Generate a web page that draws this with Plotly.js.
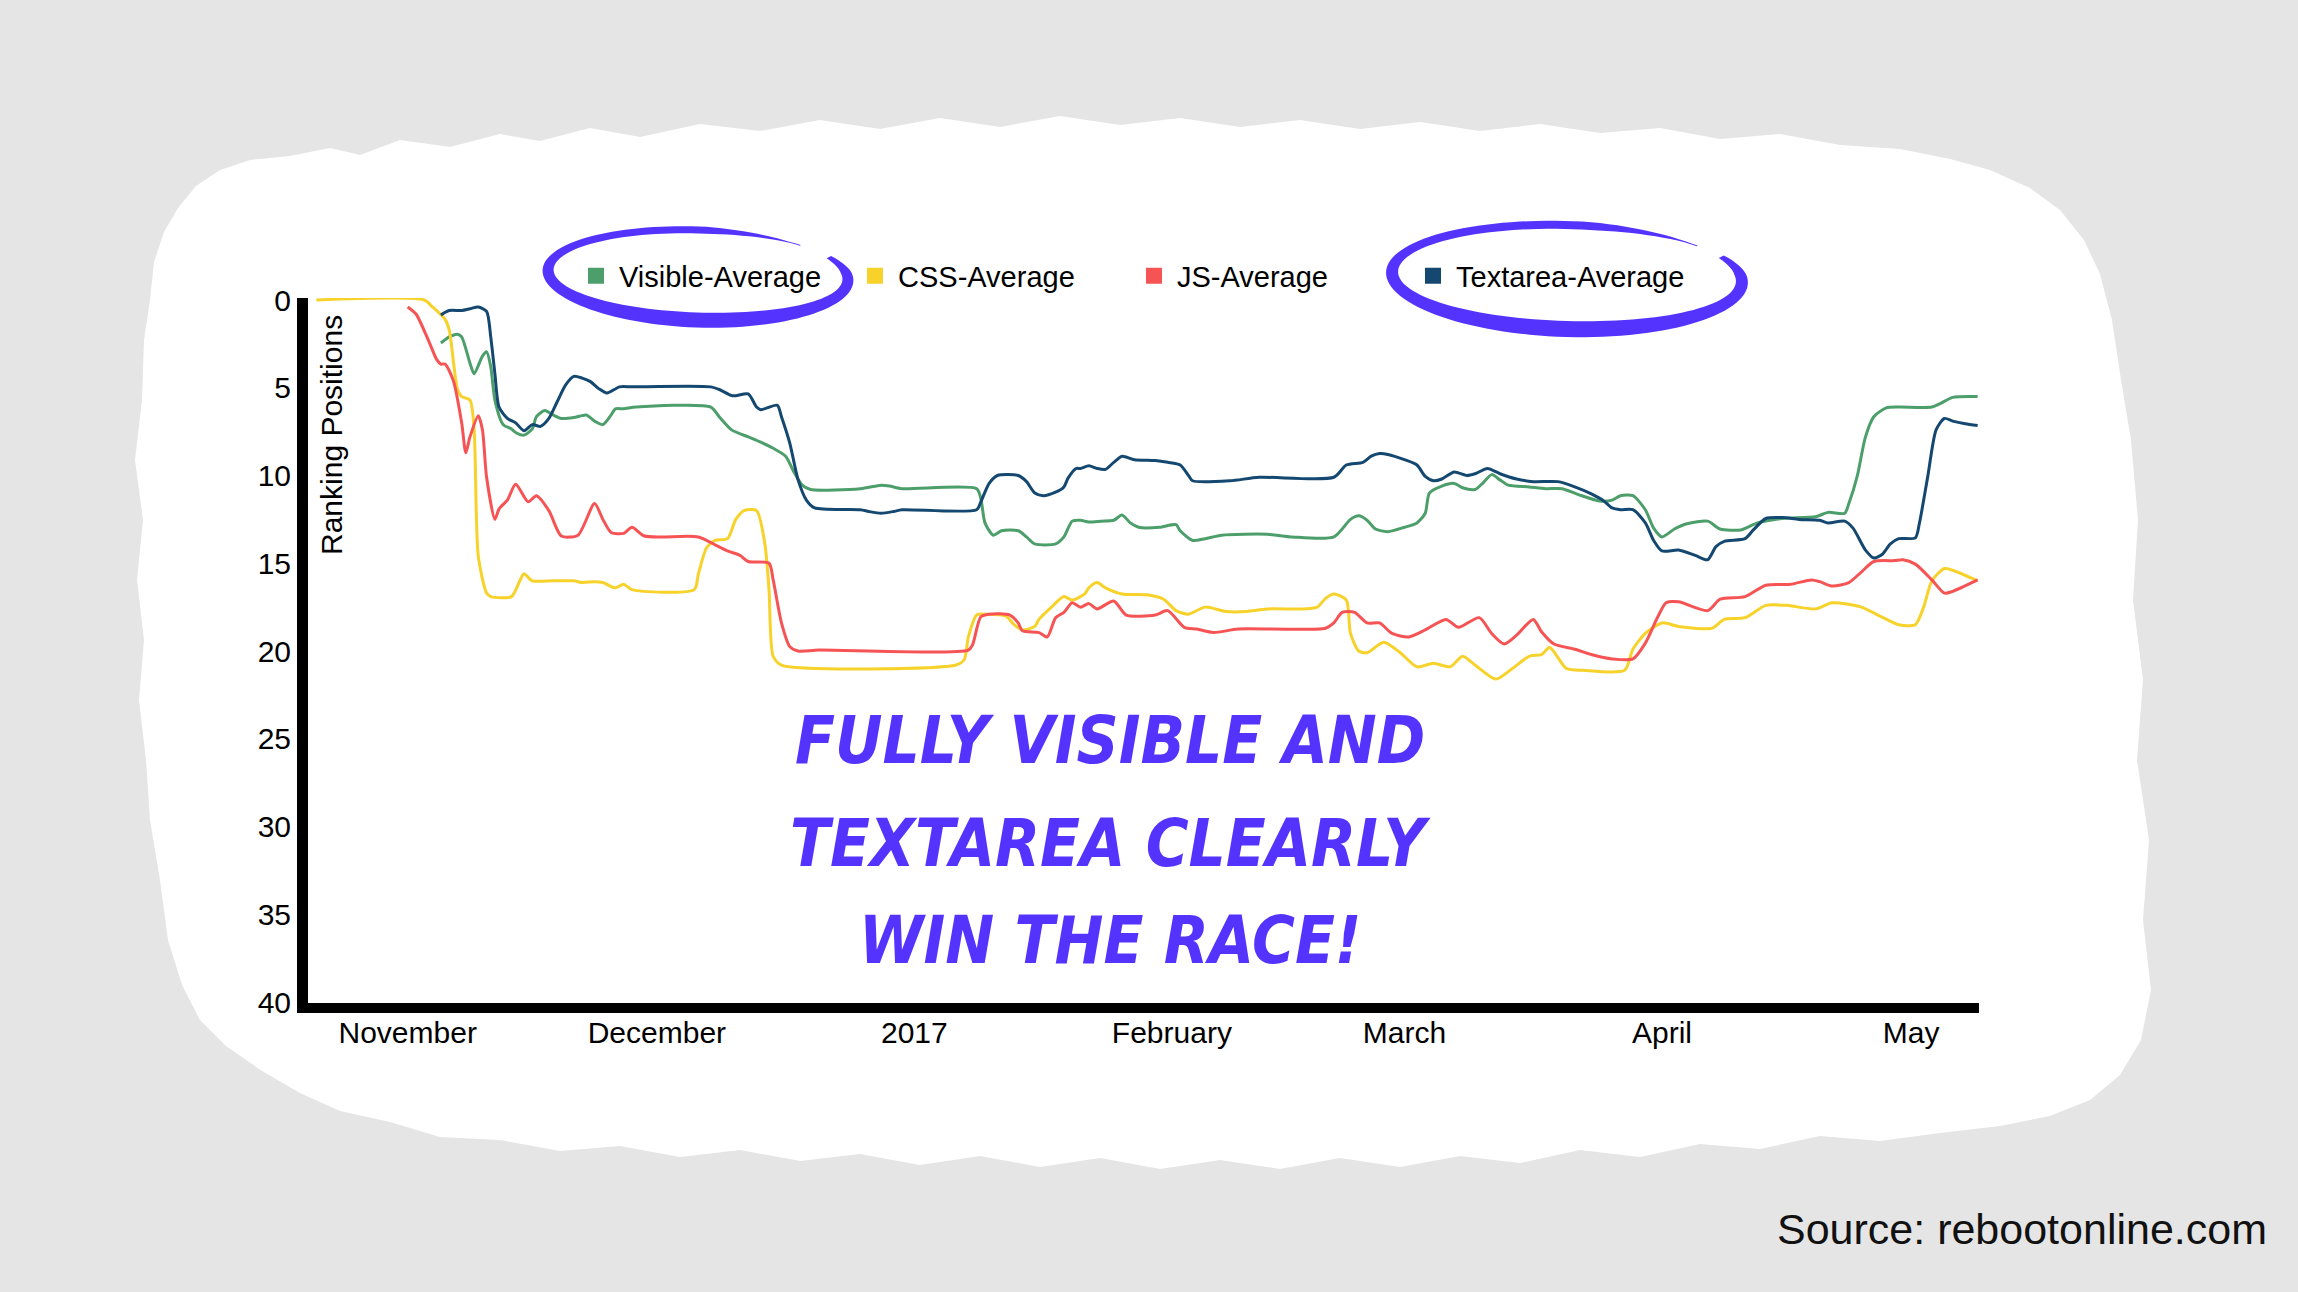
<!DOCTYPE html>
<html>
<head>
<meta charset="utf-8">
<script src="https://cdn.plot.ly/plotly-3.0.1.min.js"></script>
<style>
html,body{margin:0;padding:0;background:#e5e5e5;}
#chart{width:2298px;height:1292px;}
</style>
</head>
<body>
<div id="chart"></div>
<script>
// ---------- DATA ----------
const seriesNames  = ['Visible-Average', 'CSS-Average', 'JS-Average', 'Textarea-Average'];
const seriesColors = ['#4c9e6a', '#f7d22b', '#f65454', '#144870'];

const monthTickDates  = ['2016-11-01','2016-12-01','2017-01-01','2017-02-01','2017-03-01','2017-04-01','2017-05-01'];
const monthTickLabels = ['November','December','2017','February','March','April','May'];
const rankTicks = [0, 5, 10, 15, 20, 25, 30, 35, 40];

const calloutLines = ['FULLY VISIBLE AND', 'TEXTAREA CLEARLY', 'WIN THE RACE!'];

const visiblePoints = [
 ['2016-11-05',2.45],['2016-11-06',2.1],['2016-11-07',1.95],['2016-11-07 12:00',2.1],['2016-11-08 12:00',3.6],
 ['2016-11-09',4.2],['2016-11-10',3.2],['2016-11-10 12:00',2.95],['2016-11-11',3.8],['2016-11-11 12:00',5.7],
 ['2016-11-12 12:00',7.1],['2016-11-13 12:00',7.35],['2016-11-14',7.55],['2016-11-15',7.7],['2016-11-16',7.35],
 ['2016-11-16 12:00',6.65],['2016-11-17 12:00',6.3],['2016-11-18 12:00',6.55],['2016-11-19 12:00',6.75],['2016-11-21',6.7],
 ['2016-11-22 12:00',6.55],['2016-11-23 12:00',6.9],['2016-11-24 12:00',7.1],['2016-11-25 12:00',6.55],['2016-11-26',6.2],
 ['2016-11-27',6.2],['2016-11-28 12:00',6.1],['2016-12-07 12:00',6.1],['2016-12-08 12:00',6.65],['2016-12-10',7.4],
 ['2016-12-12',7.8],['2016-12-13 12:00',8.1],['2016-12-15',8.45],['2016-12-16 12:00',8.9],['2016-12-17 12:00',9.8],
 ['2016-12-18 12:00',10.55],['2016-12-19 12:00',10.8],['2016-12-25 12:00',10.75],['2016-12-28',10.55],['2016-12-29',10.6],
 ['2016-12-30 12:00',10.75],['2017-01-08 12:00',10.75],['2017-01-09',11.3],['2017-01-09 12:00',12.7],['2017-01-10 12:00',13.4],
 ['2017-01-11 12:00',13.15],['2017-01-13 12:00',13.15],['2017-01-14 12:00',13.5],['2017-01-15 12:00',13.9],['2017-01-18',13.9],
 ['2017-01-19',13.5],['2017-01-20',12.6],['2017-01-21',12.55],['2017-01-22',12.65],['2017-01-23 12:00',12.6],
 ['2017-01-25',12.55],['2017-01-26',12.25],['2017-01-27',12.7],['2017-01-28',12.95],['2017-01-30 12:00',12.95],
 ['2017-02-01 12:00',12.8],['2017-02-02',13.15],['2017-02-03 12:00',13.7],['2017-02-05',13.6],['2017-02-07',13.4],
 ['2017-02-12 12:00',13.35],['2017-02-15 12:00',13.5],['2017-02-20 12:00',13.5],['2017-02-22 12:00',12.5],['2017-02-23 12:00',12.3],
 ['2017-02-24 12:00',12.55],['2017-02-25 12:00',13.05],['2017-02-27',13.2],['2017-03-01',12.95],['2017-03-02 12:00',12.7],
 ['2017-03-03 12:00',12.15],['2017-03-04',11.0],['2017-03-05 12:00',10.6],['2017-03-07',10.45],['2017-03-08',10.7],
 ['2017-03-09 12:00',10.8],['2017-03-10 12:00',10.4],['2017-03-11 12:00',9.95],['2017-03-12 12:00',10.25],['2017-03-13 12:00',10.55],
 ['2017-03-16',10.65],['2017-03-18',10.75],['2017-03-20',10.75],['2017-03-22',11.1],['2017-03-24 12:00',11.45],
 ['2017-03-26',11.4],['2017-03-27',11.15],['2017-03-28 12:00',11.15],['2017-03-30',11.95],['2017-03-31',13.0],
 ['2017-04-01',13.5],['2017-04-02 12:00',13.05],['2017-04-04',12.75],['2017-04-06 12:00',12.6],['2017-04-08',13.05],
 ['2017-04-10 12:00',13.1],['2017-04-12 12:00',12.7],['2017-04-15 12:00',12.45],['2017-04-19 12:00',12.35],['2017-04-21',12.1],
 ['2017-04-23',12.15],['2017-04-23 12:00',11.6],['2017-04-24 12:00',10.05],['2017-04-25 12:00',7.8],['2017-04-26 12:00',6.65],
 ['2017-04-28',6.15],['2017-04-29 12:00',6.1],['2017-05-03 12:00',6.1],['2017-05-04 12:00',5.9],['2017-05-06',5.55],
 ['2017-05-09',5.5]
];

const cssPoints = [
 ['2016-10-21',0],['2016-11-03',0],['2016-11-04',0.4],['2016-11-05 12:00',1.1],['2016-11-06',1.7],
 ['2016-11-07',5.1],['2016-11-07 12:00',5.5],['2016-11-08 12:00',5.7],['2016-11-09',7.4],['2016-11-09 12:00',14.6],
 ['2016-11-10 12:00',16.7],['2016-11-11',16.9],['2016-11-13 12:00',16.9],['2016-11-14 12:00',16.0],['2016-11-15',15.6],
 ['2016-11-16',16.0],['2016-11-18 12:00',16.0],['2016-11-21',16.0],['2016-11-22',16.1],['2016-11-23 12:00',16.05],
 ['2016-11-24 12:00',16.1],['2016-11-26',16.4],['2016-11-27',16.2],['2016-11-28',16.5],['2016-12-05 12:00',16.5],
 ['2016-12-06',15.6],['2016-12-07',14.1],['2016-12-08',13.7],['2016-12-09 12:00',13.6],['2016-12-10 12:00',12.5],
 ['2016-12-11 12:00',12.0],['2016-12-13',12.0],['2016-12-14',13.9],['2016-12-14 12:00',16.5],['2016-12-15',20.3],
 ['2016-12-16',20.8],['2017-01-06',20.8],['2017-01-07',20.5],['2017-01-07 12:00',19.2],['2017-01-08 12:00',17.95],
 ['2017-01-09 12:00',17.9],['2017-01-12',18.0],['2017-01-13',18.5],['2017-01-14',18.8],['2017-01-15 12:00',18.6],
 ['2017-01-16',18.2],['2017-01-17 12:00',17.5],['2017-01-19',16.9],['2017-01-20',17.1],['2017-01-21 12:00',16.75],
 ['2017-01-22',16.4],['2017-01-23',16.1],['2017-01-24',16.4],['2017-01-26',16.75],['2017-01-29',16.8],
 ['2017-01-31',17.05],['2017-02-01 12:00',17.7],['2017-02-03',17.9],['2017-02-05',17.5],['2017-02-07 12:00',17.75],
 ['2017-02-10',17.75],['2017-02-12 12:00',17.6],['2017-02-17',17.6],['2017-02-18 12:00',17.5],['2017-02-19 12:00',17.0],
 ['2017-02-20 12:00',16.75],['2017-02-22',17.1],['2017-02-22 12:00',19.0],['2017-02-23 12:00',20.0],['2017-02-24 12:00',20.1],
 ['2017-02-26 12:00',19.5],['2017-02-28 12:00',20.1],['2017-03-02 12:00',20.9],['2017-03-04 12:00',20.7],['2017-03-06 12:00',20.9],
 ['2017-03-08',20.3],['2017-03-09 12:00',20.8],['2017-03-12',21.6],['2017-03-14',21.0],['2017-03-16',20.3],
 ['2017-03-17 12:00',20.2],['2017-03-18 12:00',19.8],['2017-03-20 12:00',21.0],['2017-03-22 12:00',21.1],['2017-03-27 12:00',21.1],
 ['2017-03-28 12:00',19.9],['2017-03-30',19.0],['2017-04-01',18.4],['2017-04-03',18.6],['2017-04-07',18.7],
 ['2017-04-08 12:00',18.2],['2017-04-11',18.1],['2017-04-13 12:00',17.4],['2017-04-16',17.4],['2017-04-19 12:00',17.6],
 ['2017-04-21 12:00',17.25],['2017-04-25',17.5],['2017-04-27',17.95],['2017-04-29 12:00',18.5],['2017-05-01 12:00',18.5],
 ['2017-05-02 12:00',17.5],['2017-05-03 12:00',16.0],['2017-05-05',15.3],['2017-05-06',15.4],['2017-05-09',16.0]
];

const jsPoints = [
 ['2016-11-01',0.4],['2016-11-02',0.8],['2016-11-03 12:00',2.3],['2016-11-04 12:00',3.4],['2016-11-05',3.65],
 ['2016-11-05 12:00',3.65],['2016-11-06 12:00',4.6],['2016-11-07 12:00',7.0],['2016-11-08',8.7],['2016-11-08 12:00',7.8],
 ['2016-11-09 12:00',6.6],['2016-11-10',7.4],['2016-11-10 12:00',10.1],['2016-11-11 12:00',12.5],['2016-11-12',11.9],
 ['2016-11-13',11.4],['2016-11-14',10.5],['2016-11-15 12:00',11.5],['2016-11-16 12:00',11.15],['2016-11-18',12.0],
 ['2016-11-19 12:00',13.45],['2016-11-21 12:00',13.4],['2016-11-23 12:00',11.6],['2016-11-24 12:00',12.5],['2016-11-25 12:00',13.25],
 ['2016-11-27',13.3],['2016-11-28',12.95],['2016-11-29 12:00',13.45],['2016-12-06',13.5],['2016-12-08',13.95],
 ['2016-12-09 12:00',14.3],['2016-12-11',14.55],['2016-12-12',14.9],['2016-12-14 12:00',15.0],['2016-12-15',15.95],
 ['2016-12-16',18.4],['2016-12-17',19.75],['2016-12-18',20.0],['2016-12-20 12:00',19.95],['2017-01-07 12:00',19.95],
 ['2017-01-08',19.65],['2017-01-09',18.05],['2017-01-10',17.9],['2017-01-12 12:00',17.95],['2017-01-13 12:00',18.4],
 ['2017-01-14',18.85],['2017-01-16',18.95],['2017-01-17',19.2],['2017-01-18',18.1],['2017-01-19',17.8],
 ['2017-01-20',17.25],['2017-01-21',17.5],['2017-01-22',17.3],['2017-01-23',17.6],['2017-01-25',17.15],
 ['2017-01-26 12:00',17.95],['2017-01-30',17.95],['2017-01-31 12:00',17.7],['2017-02-02 12:00',18.65],['2017-02-04',18.75],
 ['2017-02-06',18.95],['2017-02-09',18.75],['2017-02-19 12:00',18.7],['2017-02-20 12:00',18.4],['2017-02-21 12:00',17.8],
 ['2017-02-23',17.8],['2017-02-24 12:00',18.4],['2017-02-26',18.4],['2017-02-27 12:00',19.0],['2017-03-01 12:00',19.2],
 ['2017-03-03 12:00',18.8],['2017-03-06',18.2],['2017-03-07 12:00',18.65],['2017-03-10',18.1],['2017-03-11 12:00',19.0],
 ['2017-03-13',19.6],['2017-03-14 12:00',19.1],['2017-03-16 12:00',18.2],['2017-03-17 12:00',18.9],['2017-03-19',19.6],
 ['2017-03-21 12:00',19.9],['2017-03-23 12:00',20.2],['2017-03-26',20.45],['2017-03-28 12:00',20.45],['2017-03-30',19.55],
 ['2017-03-31 12:00',18.05],['2017-04-01 12:00',17.25],['2017-04-03',17.2],['2017-04-06 12:00',17.7],['2017-04-08',17.05],
 ['2017-04-11',16.9],['2017-04-13 12:00',16.25],['2017-04-16 12:00',16.2],['2017-04-19',15.95],['2017-04-20',16.05],
 ['2017-04-21 12:00',16.3],['2017-04-23 12:00',16.1],['2017-04-25',15.5],['2017-04-26 12:00',14.9],['2017-04-29',14.85],
 ['2017-04-30',14.8],['2017-05-01 12:00',15.05],['2017-05-03 12:00',15.95],['2017-05-05',16.7],['2017-05-06',16.6],
 ['2017-05-09',15.95]
];

const textareaPoints = [
 ['2016-11-05',0.85],['2016-11-06',0.6],['2016-11-07 12:00',0.6],['2016-11-08 12:00',0.5],['2016-11-09 12:00',0.4],
 ['2016-11-10 12:00',0.65],['2016-11-11',2.1],['2016-11-11 12:00',4.2],['2016-11-12',6.1],['2016-11-13',6.75],
 ['2016-11-14',7.0],['2016-11-15',7.45],['2016-11-16',7.1],['2016-11-17',7.2],['2016-11-18',6.75],
 ['2016-11-19',5.8],['2016-11-20',4.85],['2016-11-21',4.35],['2016-11-22',4.45],['2016-11-23',4.65],
 ['2016-11-24',5.05],['2016-11-25',5.3],['2016-11-26 12:00',4.95],['2016-11-28',4.95],['2016-12-07 12:00',4.95],
 ['2016-12-08 12:00',5.1],['2016-12-10',5.45],['2016-12-10 12:00',5.45],['2016-12-12',5.35],['2016-12-13',6.1],
 ['2016-12-13 12:00',6.25],['2016-12-15 12:00',6.0],['2016-12-16',6.65],['2016-12-17',8.15],['2016-12-18',10.25],
 ['2016-12-19',11.4],['2016-12-20',11.85],['2016-12-25 12:00',11.95],['2016-12-26 12:00',12.05],['2016-12-28',12.15],
 ['2016-12-29 12:00',12.05],['2016-12-30 12:00',11.95],['2017-01-08 12:00',11.95],['2017-01-09',11.5],['2017-01-10',10.45],
 ['2017-01-11',10.0],['2017-01-13 12:00',10.0],['2017-01-14 12:00',10.35],['2017-01-15 12:00',11.0],['2017-01-16 12:00',11.15],
 ['2017-01-18',10.95],['2017-01-19',10.65],['2017-01-19 12:00',10.15],['2017-01-20 12:00',9.6],['2017-01-21',9.6],
 ['2017-01-22',9.45],['2017-01-23',9.6],['2017-01-24',9.65],['2017-01-25',9.25],['2017-01-26',8.9],
 ['2017-01-27 12:00',9.1],['2017-01-30',9.15],['2017-01-31 12:00',9.25],['2017-02-02',9.4],['2017-02-03',10.0],
 ['2017-02-03 12:00',10.3],['2017-02-08',10.3],['2017-02-11 12:00',10.1],['2017-02-20 12:00',10.1],['2017-02-22',9.4],
 ['2017-02-24',9.25],['2017-02-25',8.9],['2017-02-26',8.75],['2017-02-27',8.8],['2017-03-01',9.1],
 ['2017-03-02 12:00',9.4],['2017-03-03 12:00',10.05],['2017-03-04 12:00',10.3],['2017-03-05 12:00',10.2],['2017-03-07',9.8],
 ['2017-03-08 12:00',10.0],['2017-03-09 12:00',9.9],['2017-03-11',9.6],['2017-03-12 12:00',9.9],['2017-03-14 12:00',10.2],
 ['2017-03-16 12:00',10.35],['2017-03-19 12:00',10.35],['2017-03-21 12:00',10.65],['2017-03-23 12:00',11.05],['2017-03-25',11.45],
 ['2017-03-26',11.85],['2017-03-27',11.95],['2017-03-28 12:00',11.95],['2017-03-30',12.7],['2017-03-31',13.7],
 ['2017-04-01',14.3],['2017-04-03',14.25],['2017-04-05',14.55],['2017-04-06 12:00',14.8],['2017-04-07 12:00',14.05],
 ['2017-04-08 12:00',13.75],['2017-04-11',13.6],['2017-04-12',13.1],['2017-04-13 12:00',12.45],['2017-04-15 12:00',12.4],
 ['2017-04-17 12:00',12.5],['2017-04-20',12.55],['2017-04-21',12.7],['2017-04-23',12.6],['2017-04-24',13.0],
 ['2017-04-25 12:00',14.25],['2017-04-26 12:00',14.7],['2017-04-27 12:00',14.5],['2017-04-28 12:00',13.9],['2017-04-29 12:00',13.6],
 ['2017-05-01 12:00',13.55],['2017-05-02',12.7],['2017-05-03',10.05],['2017-05-04',7.4],['2017-05-05',6.75],
 ['2017-05-06',6.9],['2017-05-07 12:00',7.05],['2017-05-09',7.15]
];

const seriesPoints = [visiblePoints, cssPoints, jsPoints, textareaPoints];

// ---------- LAYOUT GEOMETRY (pixels) ----------
const W = 2298, H = 1292;
const PL = 308, PR = 1979, PT = 298, PB = 1003;
const PW = PR - PL, PH = PB - PT;
const px = x => (x - PL) / PW;
const py = y => (PB - y) / PH;

function pathFrom(pts) {
  return 'M' + pts.map(p => px(p[0]).toFixed(5) + ',' + py(p[1]).toFixed(5)).join('L') + 'Z';
}

// torn white paper outline (decoration)
const paperOutline = [
 [150,300],[154,262],[164,232],[178,208],[196,186],[220,170],[250,160],[290,156],[330,148],[360,155],
 [400,140],[450,147],[500,134],[540,141],[590,128],[640,137],[700,124],[760,131],[820,120],[880,129],
 [940,118],[1000,127],[1060,116],[1120,125],[1180,118],[1240,127],[1300,120],[1360,129],[1420,122],[1480,131],
 [1540,124],[1600,133],[1660,128],[1720,139],[1780,134],[1840,145],[1900,149],[1950,159],[1990,170],[2030,188],
 [2060,210],[2084,240],[2100,274],[2112,320],[2121,380],[2131,440],[2138,520],[2133,600],[2143,680],[2137,760],
 [2149,840],[2143,920],[2151,990],[2141,1040],[2120,1075],[2090,1100],[2050,1116],[2000,1126],[1940,1133],[1880,1141],
 [1820,1136],[1760,1149],[1700,1144],[1640,1157],[1580,1150],[1520,1163],[1460,1156],[1400,1167],[1340,1158],[1280,1169],
 [1220,1160],[1160,1169],[1100,1158],[1040,1167],[980,1156],[920,1165],[860,1154],[800,1161],[740,1150],[680,1157],
 [620,1146],[560,1151],[500,1140],[440,1137],[390,1122],[340,1111],[300,1093],[262,1071],[226,1046],[200,1020],
 [182,985],[168,940],[160,880],[150,820],[146,760],[139,700],[144,640],[137,580],[143,520],[135,460],
 [142,400],[144,340]
];

// hand-drawn ring around a legend entry (decoration)
function ringPath(c) {
  const n = 120, outer = [], inner = [];
  const cr = Math.cos(c.rot), sr = Math.sin(c.rot);
  for (let i = 0; i <= n; i++) {
    const th = c.a0 + (c.a1 - c.a0) * i / n;
    let w = c.w0 + c.w1 * Math.sin(th);
    const tail = Math.max(0.12, Math.min(1, (c.a1 - th) / 0.7));
    const head = Math.min(1, 0.55 + 0.45 * (th - c.a0) / 0.35);
    w *= tail * head;
    const ex = Math.cos(th), ey = Math.sin(th);
    const pt = (rx, ry) => { const x = rx * ex, y = ry * ey; return [c.cx + x * cr - y * sr, c.cy + x * sr + y * cr]; };
    outer.push(pt(c.rx + w / 2, c.ry + w / 2));
    inner.push(pt(c.rx - w / 2, c.ry - w / 2));
  }
  return pathFrom(outer.concat(inner.reverse()));
}

const ringBlue = '#5533ff';
const rings = [
  {cx: 698, cy: 275, rx: 150, ry: 45, rot: 0.035, a0: -0.52, a1: 2*Math.PI - 0.83, w0: 11, w1: 4},
  {cx: 1567, cy: 277, rx: 175, ry: 52, rot: 0.03, a0: -0.50, a1: 2*Math.PI - 0.74, w0: 12, w1: 4}
];

// ---------- TRACES ----------
const traces = [];
seriesPoints.forEach((pts, i) => {
  traces.push({
    type: 'scatter', mode: 'lines',
    x: pts.map(p => p[0]), y: pts.map(p => p[1]),
    line: {color: seriesColors[i], width: 3, shape: 'spline', smoothing: 0.7},
    showlegend: false, hoverinfo: 'skip'
  });
});
seriesNames.forEach((name, i) => {
  traces.push({
    type: 'scatter', mode: 'markers', name: name,
    x: [null], y: [null],
    marker: {symbol: 'square', size: 16, color: seriesColors[i]},
    showlegend: true
  });
});

const baseFont = 'Liberation Sans, Arial, Helvetica, sans-serif';
const brushFont = 'DejaVu Sans Condensed, Liberation Sans Narrow, sans-serif';

const shapes = [
  {type: 'path', xref: 'paper', yref: 'paper', path: pathFrom(paperOutline),
   fillcolor: '#ffffff', line: {width: 0}, layer: 'below'}
].concat(rings.map(r => ({
  type: 'path', xref: 'paper', yref: 'paper', path: ringPath(r),
  fillcolor: ringBlue, line: {width: 0}, layer: 'above'
})));

const calloutY = [740, 843, 940];
const calloutAnnotations = calloutLines.map((t, i) => ({
  xref: 'paper', yref: 'paper', x: px(1110), y: py(calloutY[i]),
  text: '<b><i>' + t + '</i></b>', showarrow: false, xanchor: 'center', yanchor: 'middle',
  font: {family: brushFont, size: 65, color: ringBlue}
}));

const layout = {
  width: W, height: H,
  margin: {l: PL, r: W - PR, t: PT, b: H - PB, pad: 0},
  paper_bgcolor: '#e5e5e5',
  plot_bgcolor: 'rgba(0,0,0,0)',
  font: {family: baseFont, size: 30, color: '#000000'},
  showlegend: true,
  legend: {
    orientation: 'h', x: px(573), xanchor: 'left', y: py(276), yanchor: 'middle',
    bgcolor: 'rgba(0,0,0,0)', borderwidth: 0, itemwidth: 36,
    font: {family: baseFont, size: 29, color: '#000000'},
    entrywidth: 228, entrywidthmode: 'pixels', traceorder: 'normal'
  },
  xaxis: {
    type: 'date', range: ['2016-10-20 00:00', '2017-05-09 04:00'], autorange: false,
    showline: true, linecolor: '#000000', linewidth: 10,
    showgrid: false, zeroline: false, ticks: '',
    tickmode: 'array', tickvals: monthTickDates, ticktext: monthTickLabels,
    ticklabelstandoff: -6,
    tickfont: {family: baseFont, size: 30, color: '#000000'}
  },
  yaxis: {
    range: [40.057, -0.114], autorange: false,
    showline: true, linecolor: '#000000', linewidth: 11,
    showgrid: false, zeroline: false, ticks: '',
    tickmode: 'array', tickvals: rankTicks,
    tickfont: {family: baseFont, size: 30, color: '#000000'}
  },
  shapes: shapes,
  annotations: [
    {xref: 'paper', yref: 'paper', x: px(331), y: py(435), text: 'Ranking Positions',
     textangle: -90, showarrow: false, xanchor: 'center', yanchor: 'middle',
     font: {family: baseFont, size: 30, color: '#000000'}},
    {xref: 'paper', yref: 'paper', x: px(2269), y: py(1229), text: 'Source: rebootonline.com',
     showarrow: false, xanchor: 'right', yanchor: 'middle',
     font: {family: baseFont, size: 43, color: '#111111'}}
  ].concat(calloutAnnotations)
};

Plotly.newPlot('chart', traces, layout, {displayModeBar: false, staticPlot: true});
</script>
</body>
</html>
